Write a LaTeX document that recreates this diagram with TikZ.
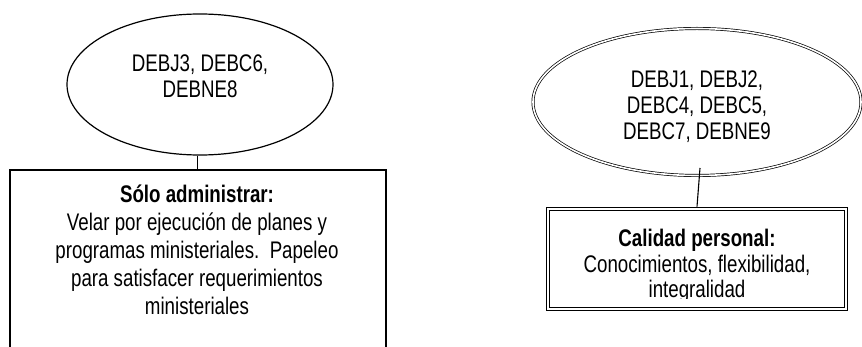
\documentclass[tikz,border=0pt]{standalone}
\usepackage{fontspec}
\setmainfont{Liberation Sans}[FakeStretch=0.78]
\usetikzlibrary{shapes.geometric}
\begin{document}
\begin{tikzpicture}[x=1pt,y=-1pt,
  etxt/.style={font=\fontsize{24}{26}\selectfont, align=center, inner sep=0pt},
  btxt/.style={font=\fontsize{24}{28}\selectfont, align=center, inner sep=0pt},
  rtxt/.style={font=\fontsize{24}{25.5}\selectfont, align=center, inner sep=0pt},
  singleell/.style={ellipse, draw, line width=1.2pt, inner sep=0pt},
  doubleell/.style={ellipse, draw, double, double distance=1.6pt, line width=0.7pt, inner sep=0pt},
  plainbox/.style={rectangle, draw, line width=1.6pt, inner sep=0pt},
  outerbox/.style={rectangle, draw, line width=1.8pt, inner sep=0pt},
  conn/.style={line width=1.1pt}]
\useasboundingbox (0,0) rectangle (862,347);

% left side
\node[singleell, minimum width=266pt, minimum height=141pt] (e1) at (200,84.5) {};
\node[etxt] (t1) at (200,76.5) {DEBJ3, DEBC6,\\DEBNE8};
\node[plainbox, minimum width=376pt, minimum height=200pt, anchor=north west] (b1) at (9,169) {};
\node[btxt] (t2) at (197,249.5) {\textbf{Sólo administrar:}\\Velar por ejecución de planes y\\programas ministeriales.\ \ Papeleo\\para satisfacer requerimientos\\ministeriales};
\draw[conn] (b1.north |- e1.south) -- (b1.north);

% right side
\node[doubleell, minimum width=328pt, minimum height=147pt] (e2) at (697,102) {};
\node[etxt] (t3) at (697,106.5) {DEBJ1, DEBJ2,\\DEBC4, DEBC5,\\DEBC7, DEBNE9};
\node[outerbox, minimum width=301pt, minimum height=103pt] (b2) at (697,259) {};
\draw[line width=0.8pt] ([shift={(4,4)}]b2.north west) rectangle ([shift={(-4,-4)}]b2.south east);
\begin{scope}
  \clip (540,210) rectangle (850,298.5);
  \node[rtxt] (t4) at (697,266) {\textbf{Calidad personal:}\\Conocimientos, flexibilidad,\\integralidad};
\end{scope}
\coordinate (c2s) at (700,168);
\draw[conn] (c2s) -- (b2.north);
\end{tikzpicture}
\end{document}
